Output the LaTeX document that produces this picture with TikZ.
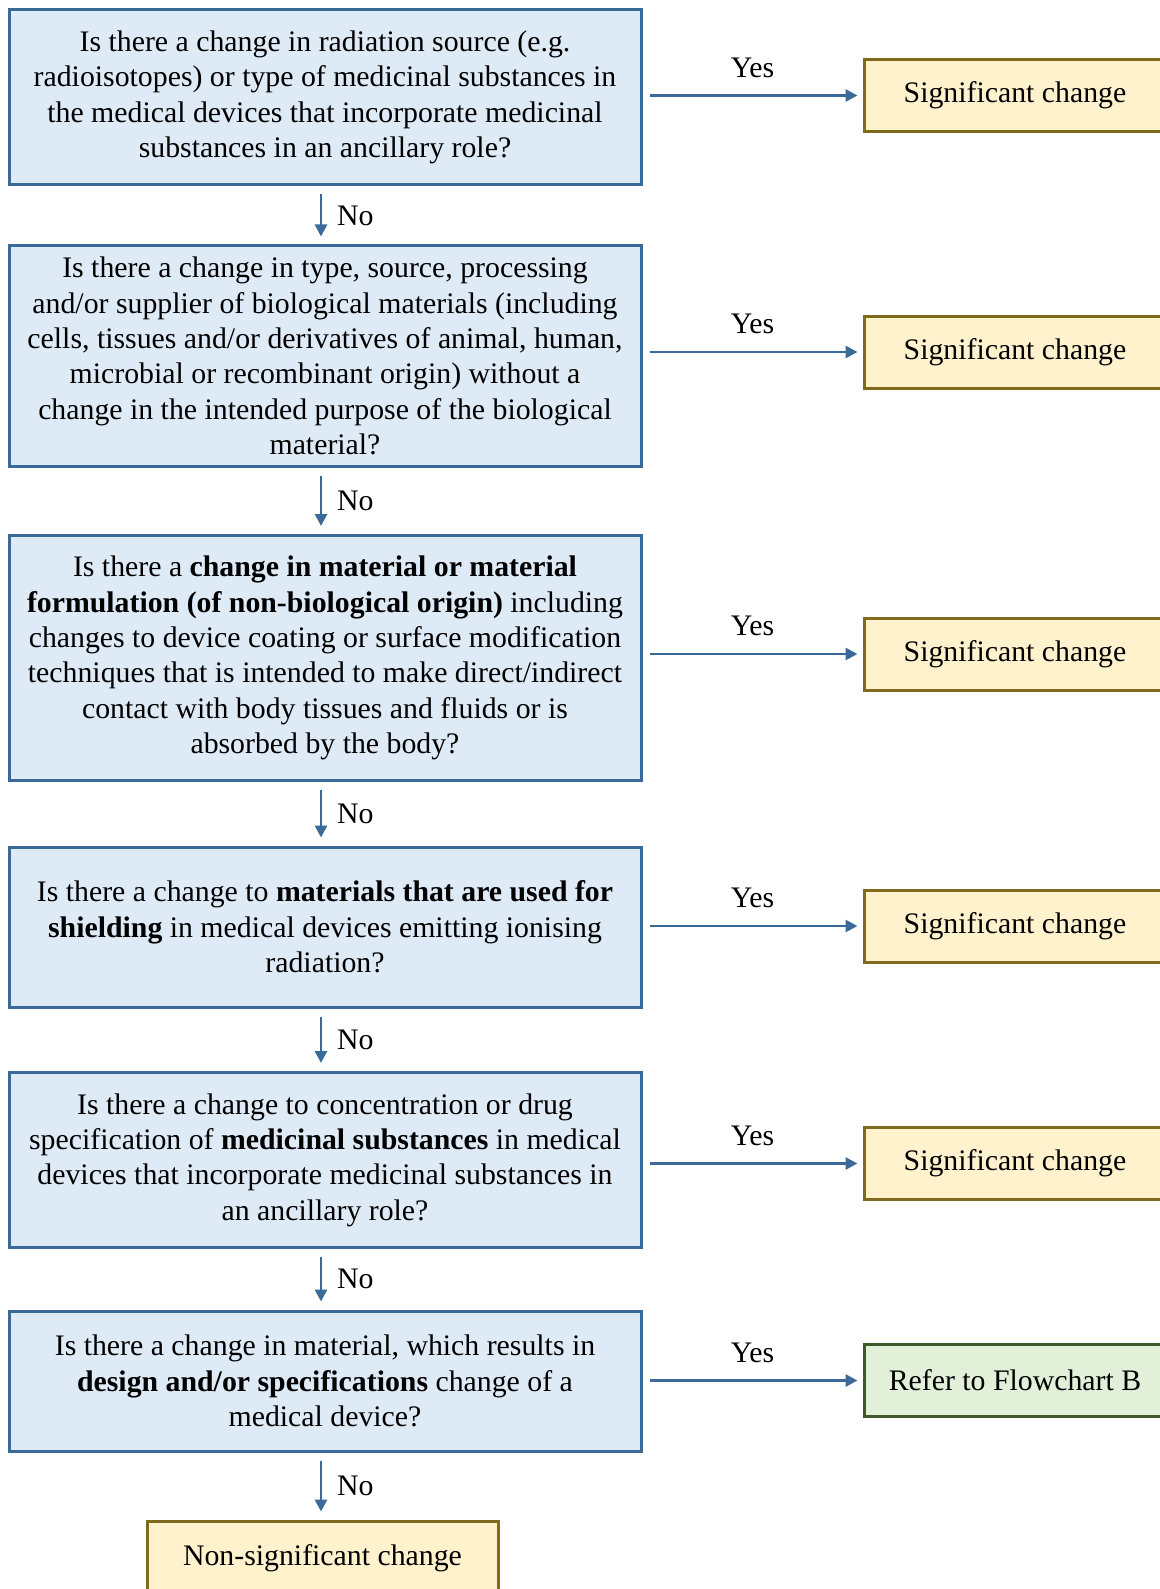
\documentclass[tikz,border=0pt]{standalone}
\usepackage{fontspec}
\setmainfont{Liberation Serif}
\usepackage[HTML]{xcolor}
\usepackage{tikz}
\usetikzlibrary{positioning, arrows.meta}

\definecolor{qfill}{HTML}{DEEBF7}
\definecolor{qline}{HTML}{3A6A98}
\definecolor{sfill}{HTML}{FFF2CC}
\definecolor{sline}{HTML}{7F6A1E}
\definecolor{gfill}{HTML}{E2EFD9}
\definecolor{gline}{HTML}{3E5A2C}

\begin{document}
\begin{tikzpicture}[x=0.5pt, y=-0.5pt,
  every node/.style={font=\fontsize{14.9}{17.7}\selectfont},
  qbox/.style={draw=qline, fill=qfill, line width=1.5pt, align=center, minimum width=316pt, inner sep=0pt},
  sbox/.style={draw=sline, fill=sfill, line width=1.5pt, align=center, minimum width=151pt, minimum height=36pt, inner sep=0pt},
  gbox/.style={draw=gline, fill=gfill, line width=1.5pt, align=center, minimum width=151pt, minimum height=36pt, inner sep=0pt},
  flow/.style={draw=qline, line width=1.4pt, -{Triangle[length=6pt,width=6pt]}}]
\useasboundingbox (0,0) rectangle (1160,1589);

% Left: question boxes
\node[qbox, minimum height=87.5pt] (q1) at (325,97.5) {Is there a change in radiation source (e.g.\\ radioisotopes) or type of medicinal substances in\\ the medical devices that incorporate medicinal\\ substances in an ancillary role?};
\node[qbox, minimum height=110pt] (q2) at (325,356) {Is there a change in type, source, processing\\ and/or supplier of biological materials (including\\ cells, tissues and/or derivatives of animal, human,\\ microbial or recombinant origin) without a\\ change in the intended purpose of the biological\\ material?};
\node[qbox, minimum height=122.5pt] (q3) at (325,658) {Is there a \textbf{change in material or material}\\ \textbf{formulation (of non-biological origin)} including\\ changes to device coating or surface modification\\ techniques that is intended to make direct/indirect\\ contact with body tissues and fluids or is\\ absorbed by the body?};
\node[qbox, minimum height=80pt] (q4) at (325,927) {Is there a change to \textbf{materials that are used for}\\ \textbf{shielding} in medical devices emitting ionising\\ radiation?};
\node[qbox, minimum height=87.5pt] (q5) at (325,1160) {Is there a change to concentration or drug\\ specification of \textbf{medicinal substances} in medical\\ devices that incorporate medicinal substances in\\ an ancillary role?};
\node[qbox, minimum height=70pt] (q6) at (325,1381) {Is there a change in material, which results in\\ \textbf{design and/or specifications} change of a\\ medical device?};
\node[sbox, minimum width=175.5pt, minimum height=37pt] (ns) at (322.5,1558) {Non-significant change};

% Right: outcome boxes
\node[sbox] (s1) at (1015,95.5) {Significant change};
\node[sbox] (s2) at (1015,352) {Significant change};
\node[sbox] (s3) at (1015,654) {Significant change};
\node[sbox] (s4) at (1015,926) {Significant change};
\node[sbox] (s5) at (1015,1163.5) {Significant change};
\node[gbox] (fb) at (1015,1380.5) {Refer to Flowchart B};

% Yes arrows
\foreach \q/\s in {q1/s1, q2/s2, q3/s3, q4/s4, q5/s5, q6/fb}{
  \draw[flow, shorten <=3.5pt, shorten >=2.5pt] (\q.east |- \s.west) -- node[above=5pt] {Yes} (\s.west);
}

% No arrows
\foreach \a/\b in {q1/q2, q2/q3, q3/q4, q4/q5, q5/q6, q6/ns}{
  \draw[flow, shorten <=4pt, shorten >=4pt] ([xshift=-2pt]\a.south) -- node[right=4pt] {No} ([xshift=-2pt]\a.south |- \b.north);
}
\end{tikzpicture}
\end{document}
